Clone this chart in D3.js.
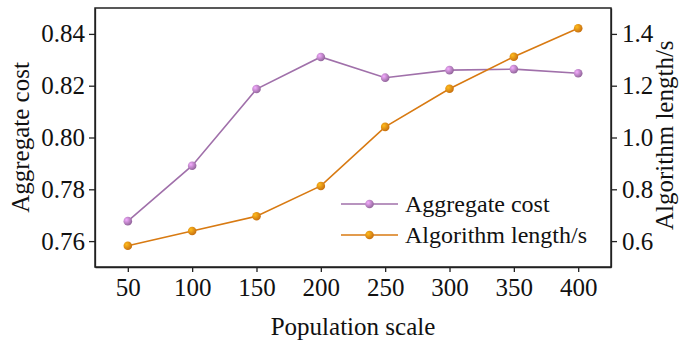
<!DOCTYPE html>
<html>
<head>
<meta charset="utf-8">
<script src="https://cdn.jsdelivr.net/npm/d3@7"></script>
<style>
  body { margin: 0; background: #fff; }
  .axis path, .axis line { stroke: #222; stroke-width: 1.3; }
</style>
</head>
<body>
<svg id="chart" width="681" height="345"></svg>
<script>
(function() {
  // population scale
  var categories = [50, 100, 150, 200, 250, 300, 350, 400];
  // left axis series
  var aggregateCost = [0.7677, 0.7891, 0.8187, 0.8311, 0.8231, 0.8260, 0.8264, 0.8248];
  // right axis series
  var algorithmLength = [0.582, 0.639, 0.696, 0.813, 1.041, 1.188, 1.312, 1.422];

  var leftTicks = [0.76, 0.78, 0.80, 0.82, 0.84];
  var rightTicks = [0.6, 0.8, 1.0, 1.2, 1.4];
  var seriesNames = ['Aggregate cost', 'Algorithm length/s'];
  var colors = ['#a070aa', '#d87a12'];

  var font = '"Liberation Serif", "Times New Roman", serif';
  var fontSize = '25px';

  var margin = { top: 8, right: 70, bottom: 78, left: 95 };
  var width = 681, height = 345;
  var innerW = width - margin.left - margin.right;
  var innerH = height - margin.top - margin.bottom;

  var svg = d3.select('#chart');

  // 渐变小球
  var defs = svg.append('defs');
  colors.forEach(function(c, i) {
    var grad = defs.append('radialGradient')
      .attr('id', 'ball' + i)
      .attr('cx', '35%').attr('cy', '35%').attr('r', '65%');
    grad.append('stop').attr('offset', '0%').attr('stop-color', d3.color(c).brighter(1.2));
    grad.append('stop').attr('offset', '100%').attr('stop-color', d3.color(c).darker(0.2));
  });

  var g = svg.append('g')
    .attr('transform', 'translate(' + margin.left + ',' + margin.top + ')');

  var x = d3.scaleLinear().domain([24.5, 425.5]).range([0, innerW]);
  var yL = d3.scaleLinear().domain([0.75, 0.85]).range([innerH, 0]);
  var yR = d3.scaleLinear().domain([0.5, 1.5]).range([innerH, 0]);

  function styleAxis(sel) {
    sel.attr('font-family', font).attr('font-size', fontSize);
    sel.selectAll('text').style('fill', '#111');
  }

  g.append('g')
    .attr('class', 'axis')
    .attr('transform', 'translate(0,' + innerH + ')')
    .call(d3.axisBottom(x).tickValues(categories).tickSize(5).tickSizeOuter(0).tickPadding(6))
    .call(styleAxis);

  g.append('g')
    .attr('class', 'axis')
    .call(d3.axisLeft(yL).tickValues(leftTicks).tickFormat(d3.format('.2f')).tickSize(6).tickSizeOuter(0).tickPadding(4))
    .call(styleAxis);

  g.append('g')
    .attr('class', 'axis')
    .attr('transform', 'translate(' + innerW + ',0)')
    .call(d3.axisRight(yR).tickValues(rightTicks).tickFormat(d3.format('.1f')).tickSize(6).tickSizeOuter(0).tickPadding(5))
    .call(styleAxis);

  // 边框
  g.append('rect')
    .attr('width', innerW)
    .attr('height', innerH)
    .attr('fill', 'none')
    .attr('stroke', '#222')
    .attr('stroke-width', 1.5);

  var seriesData = [
    { values: aggregateCost, y: yL },
    { values: algorithmLength, y: yR }
  ];

  seriesData.forEach(function(s, i) {
    var line = d3.line()
      .x(function(d, j) { return x(categories[j]); })
      .y(function(d) { return s.y(d); });

    g.append('path')
      .datum(s.values)
      .attr('fill', 'none')
      .attr('stroke', colors[i])
      .attr('stroke-width', 1.6)
      .attr('d', line);

    g.selectAll('.pt' + i)
      .data(s.values)
      .enter()
      .append('circle')
      .attr('class', 'pt' + i)
      .attr('cx', function(d, j) { return x(categories[j]); })
      .attr('cy', function(d) { return s.y(d); })
      .attr('r', 4.3)
      .attr('fill', 'url(#ball' + i + ')');
  });

  // 图例
  var legend = g.append('g')
    .attr('transform', 'translate(' + (341 - margin.left) + ',' + (204 - margin.top) + ')');
  seriesNames.forEach(function(name, i) {
    var row = legend.append('g').attr('transform', 'translate(0,' + i * 31 + ')');
    row.append('line')
      .attr('x1', 0).attr('x2', 57)
      .attr('stroke', colors[i])
      .attr('stroke-width', 1.6);
    row.append('circle')
      .attr('cx', 28.5).attr('r', 4.3)
      .attr('fill', 'url(#ball' + i + ')');
    row.append('text')
      .attr('x', 64)
      .attr('dy', '0.35em')
      .style('font-family', font)
      .style('font-size', '24px')
      .style('fill', '#111')
      .text(name);
  });

  // 轴标题
  svg.append('text')
    .attr('x', margin.left + innerW / 2)
    .attr('y', 335)
    .attr('text-anchor', 'middle')
    .style('font-family', font)
    .style('font-size', fontSize)
    .style('fill', '#111')
    .text('Population scale');

  svg.append('text')
    .attr('transform', 'translate(29,' + (margin.top + innerH / 2) + ') rotate(-90)')
    .attr('text-anchor', 'middle')
    .style('font-family', font)
    .style('font-size', fontSize)
    .style('fill', '#111')
    .text('Aggregate cost');

  svg.append('text')
    .attr('transform', 'translate(673,230) rotate(-90)')
    .attr('text-anchor', 'start')
    .style('font-family', font)
    .style('font-size', fontSize)
    .style('fill', '#111')
    .text('Algorithm length/s');
}());
</script>
</body>
</html>
